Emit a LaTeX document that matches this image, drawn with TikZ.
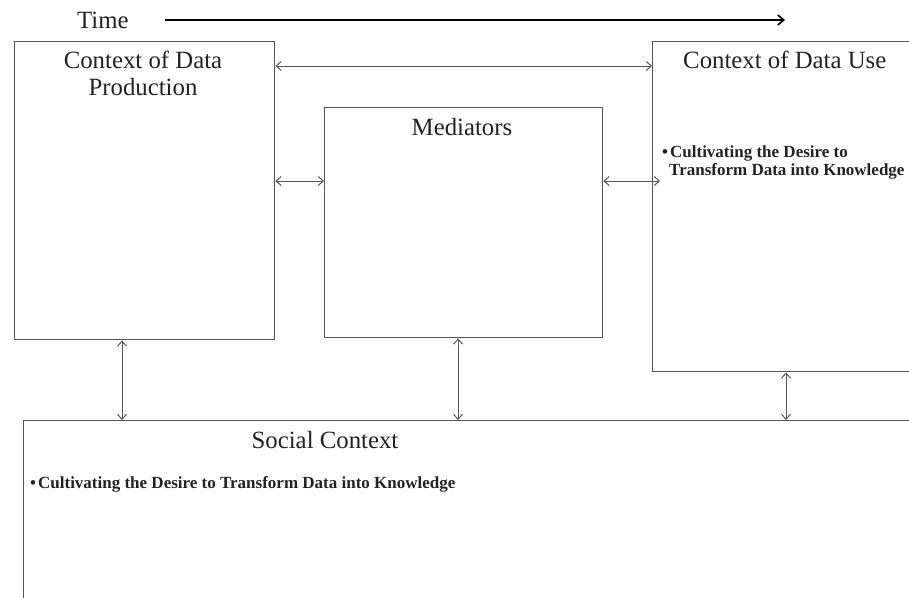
\documentclass[tikz,border=0pt]{standalone}
\usepackage{fontspec}
\setmainfont{Liberation Serif}
\usetikzlibrary{arrows.meta}
\definecolor{boxgray}{HTML}{555555}
\definecolor{txt}{HTML}{222222}
\tikzset{
  frame/.style={draw=boxgray, line width=1.4pt, fill=none, inner sep=0pt, anchor=north west},
  title/.style={font=\fontsize{24.8}{27}\selectfont, text=txt, inner sep=0pt, anchor=base, align=center},
  bullet/.style={font=\fontsize{17}{18}\selectfont\bfseries, text=txt, inner sep=0pt, anchor=base west, align=left},
  link/.style={draw=boxgray, line width=1pt, {Straight Barb[length=5pt,width=9pt]}-{Straight Barb[length=5pt,width=9pt]}},
  timearrow/.style={draw=black, line width=1.6pt, -{Straight Barb[length=6pt,width=10pt]}}
}
\begin{document}
\begin{tikzpicture}[x=1pt,y=-1pt]
\useasboundingbox (0,0) rectangle (909,597);
\clip (0,0) rectangle (909,597);
% time
\node[title, anchor=base west] (time) at (77,28) {Time};
\coordinate (tstart) at (165,20);
\coordinate (tend) at (785,20);
\draw[timearrow] (tstart) -- (tend);
% boxes
\node[frame, minimum width=260pt, minimum height=298pt] (prod) at (14,41) {};
\node[frame, minimum width=278pt, minimum height=230pt] (med) at (324,107) {};
\node[frame, minimum width=280pt, minimum height=330pt] (use) at (652,41) {};
\node[frame, minimum width=900pt, minimum height=200pt] (soc) at (23,420) {};
% titles
\node[title] (prodt) at (143,95) {Context of Data\\Production};
\node[title] (medt) at (462,135) {Mediators};
\node[title, anchor=base west] (uset) at (683,68) {Context of Data Use};
\node[title] (soct) at (325,448) {Social Context};
% bullets
\node[bullet] (useb) at (662,175) {\textbullet\hspace{2pt}Cultivating the Desire to\\\hspace{7pt}Transform Data into Knowledge};
\node[bullet] (socb) at (30,488) {\textbullet\hspace{2pt}Cultivating the Desire to Transform Data into Knowledge};
% connectors
\coordinate (useIn) at (660,181);
\draw[link] (prod.east |- {(0,66)}) -- (use.west |- {(0,66)});
\draw[link] (prod.east |- {(0,181)}) -- (med.west |- {(0,181)});
\draw[link] (med.east |- {(0,181)}) -- (useIn);
\draw[link] (prod.south -| {(122,0)}) -- (soc.north -| {(122,0)});
\draw[link] (med.south -| {(458,0)}) -- (soc.north -| {(458,0)});
\draw[link] (use.south -| {(786,0)}) -- (soc.north -| {(786,0)});
\end{tikzpicture}
\end{document}
